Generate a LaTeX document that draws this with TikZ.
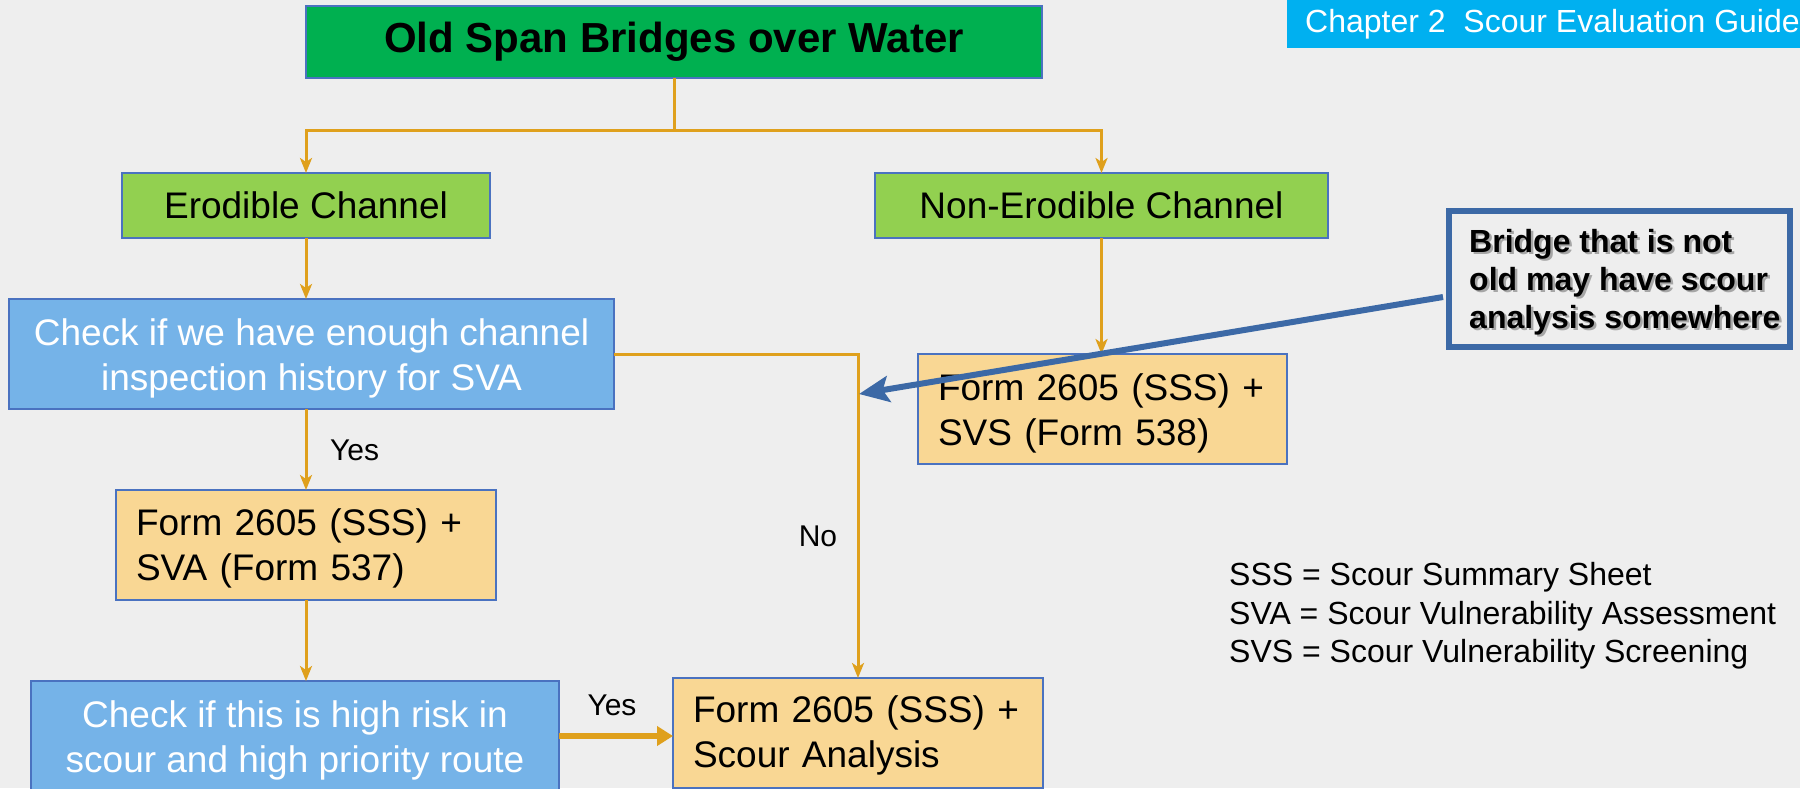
\documentclass[tikz,border=0pt]{standalone}
\usepackage{fontspec}
\setmainfont{Liberation Sans}
\usetikzlibrary{arrows.meta,calc}
\definecolor{bg}{HTML}{EEEEEE}
\definecolor{edgeblue}{HTML}{4A72C0}
\definecolor{titlegreen}{HTML}{00B050}
\definecolor{chgreen}{HTML}{92D050}
\definecolor{checkblue}{HTML}{75B3E8}
\definecolor{formorange}{HTML}{F9D794}
\definecolor{conncol}{HTML}{DFA01C}
\definecolor{headcyan}{HTML}{00B0F0}
\definecolor{callblue}{HTML}{3C69A6}
\newcommand\setfs[2]{\fontsize{#1}{#2}\selectfont}
% lines of box text, set a little below the box centre
\newcommand\lowlines[3]{\raisebox{-#1}[\height][\depth]{\begin{tabular}{@{}#2@{}}#3\end{tabular}}}
\begin{document}
\begin{tikzpicture}[x=1pt,y=-1pt,
  box/.style={draw=edgeblue, line width=1.5pt, inner sep=0pt, outer sep=0pt},
  titlebox/.style={box, fill=titlegreen, font=\setfs{42}{50}\bfseries},
  channel/.style={box, fill=chgreen, font=\setfs{37}{45}},
  checkbox/.style={box, fill=checkblue, text=white, font=\setfs{37}{45}},
  formbox/.style={box, fill=formorange, font=\setfs{37}{45}, align=left,
                  inner xsep=20pt, minimum height=110pt},
  flow/.style={draw=conncol, line width=3pt},
  flowarrow/.style={flow, -{Stealth[length=15pt,width=12pt,inset=4pt]}},
  label/.style={font=\setfs{30}{36}, inner sep=0pt},
]
\useasboundingbox (0,0) rectangle (1800,788);
\clip (0,0) rectangle (1800,788);
\fill[bg] (0,0) rectangle (1800,788);

% header banner
\node[fill=headcyan, minimum width=513pt, minimum height=48pt, inner sep=0pt,
      anchor=north east] (header) at (1800,0) {};
\node[text=white, font=\setfs{32}{38}, anchor=west, inner sep=0pt] (headtext)
      at (1305,24) {Chapter 2\ \ Scour Evaluation Guide};

% flowchart boxes
\node[titlebox, minimum width=736pt, minimum height=72pt] (title) at (674,42)
      {Old Span Bridges over Water};
\node[channel, minimum width=368pt, minimum height=65pt] (erod) at (306,205.5)
      {Erodible Channel};
\node[channel, minimum width=453pt, minimum height=65pt] (nonerod) at (1101.5,205.5)
      {Non-Erodible Channel};
\node[checkbox, minimum width=605pt, minimum height=110pt] (check1) at (311.5,354)
      {\lowlines{4.5pt}{c}{Check if we have enough channel\\inspection history for SVA}};
\node[formbox, text width=340pt] (formL) at (306,545)
      {\lowlines{3.5pt}{l}{Form 2605 (SSS) +\\SVA (Form 537)}};
\node[formbox, text width=329pt] (svs) at (1102.5,409)
      {\lowlines{4.5pt}{l}{Form 2605 (SSS) +\\SVS (Form 538)}};
\node[checkbox, minimum width=528pt, minimum height=110pt] (check2) at (295,736)
      {\lowlines{5pt}{c}{Check if this is high risk in\\scour and high priority route}};
\node[formbox, text width=330pt] (scour) at (858,733)
      {\lowlines{2.5pt}{l}{Form 2605 (SSS) +\\Scour Analysis}};

% connectors
\coordinate (split) at (674,130);
\draw[flow] (title.south) -- (split);
\draw[flowarrow] (split) -| (erod.north);
\draw[flowarrow] (split) -| (nonerod.north);
\draw[flowarrow] (erod.south) -- (erod.south |- check1.north);
\draw[flowarrow] (formL.north |- check1.south) -- (formL.north);
\draw[flowarrow] (formL.south) -- (formL.south |- check2.north);
\draw[flowarrow] (nonerod.south) -- (nonerod.south |- svs.north);
\draw[flowarrow] (check1.east) -| (scour.north);
\draw[draw=conncol, line width=6pt, -{Triangle[length=16pt,width=19pt]}]
      (check2.east) -- (check2.east -| scour.west);

% branch labels
\node[label, anchor=west] (yes1) at (330,450) {Yes};
\node[label] (no1) at (818,536) {No};
\node[label] (yes2) at (612,705) {Yes};

% legend
\node[font=\setfs{32}{38.5}, align=left, anchor=west, inner sep=0pt] (legend)
      at (1229,616)
      {SSS = Scour Summary Sheet\\SVA = Scour Vulnerability Assessment\\SVS = Scour Vulnerability Screening};

% callout with pointer
\node[draw=callblue, fill=bg, line width=6pt, minimum width=341pt,
      minimum height=136pt, inner sep=0pt] (callout) at (1619.5,279) {};
\node[font=\setfs{32}{38}\bfseries, align=left, anchor=west, inner sep=0pt,
      text=black!35] (callshadow) at (1471.5,284)
      {Bridge that is not\\old may have scour\\analysis somewhere};
\node[font=\setfs{32}{38}\bfseries, align=left, anchor=west, inner sep=0pt]
      (calltext) at (1469,282)
      {Bridge that is not\\old may have scour\\analysis somewhere};
\coordinate (tip) at (859,394);
\draw[draw=callblue, line width=6pt, -{Stealth[length=30pt,width=26pt,inset=6pt]}]
      ($(callout.west)+(-3,18)$) -- (tip);
\end{tikzpicture}
\end{document}
